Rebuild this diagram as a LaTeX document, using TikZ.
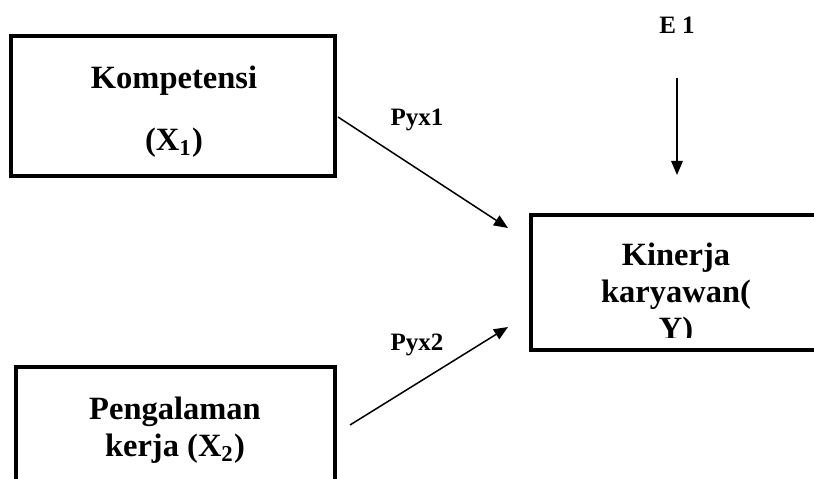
\documentclass[tikz,border=0pt]{standalone}
\usepackage{fontspec}
\setmainfont{Liberation Serif}
\usetikzlibrary{arrows.meta, positioning}
\tikzset{
  varbox/.style={rectangle, draw=black, line width=1.6pt, inner sep=0pt},
  vartext/.style={font=\bfseries\fontsize{13}{14.8}\selectfont, align=center, inner sep=0pt},
  pathlbl/.style={font=\bfseries\fontsize{10}{12}\selectfont, inner sep=0pt},
  arrow/.style={-{Triangle[length=5.6pt, width=4.6pt]}, line width=0.6pt},
}
\begin{document}
\begin{tikzpicture}[x=0.4pt, y=-0.4pt]
  \useasboundingbox (0,0) rectangle (814,479);
  \clip (0,0) rectangle (814,479);
  % boxes
  \node[varbox, minimum width=129.6pt, minimum height=56pt] (kom) at (173,106) {};
  \node[varbox, minimum width=127.6pt, minimum height=61.2pt] (peng) at (175.5,443.5) {};
  \node[varbox, minimum width=147.6pt, minimum height=54pt] (kin) at (715.5,282.5) {};
  % texts in the boxes
  \node[vartext] (komtxt) at (174,81) {Kompetensi};
  \node[vartext] (komx) at (174,143) {(X\textsubscript{1})};
  \node[vartext] (pengtxt) at (175,430) {Pengalaman\\kerja (X\textsubscript{2})};
  \begin{scope}
    \clip (535,219) rectangle (819,337);
    \node[vartext] (kintxt) at (676,295) {Kinerja\\karyawan(\\Y)};
  \end{scope}
  % path labels
  \node[pathlbl] (e1) at (677,25) {E 1};
  \node[pathlbl] (p1) at (417,120) {Pyx1};
  \node[pathlbl] (p2) at (417,345) {Pyx2};
  % arrows
  \coordinate (e1top) at (677,78);
  \coordinate (e1end) at (677,175);
  \coordinate (p1start) at (338,117);
  \coordinate (p1end) at (508,228);
  \coordinate (p2start) at (350,425);
  \coordinate (p2end) at (508,327);
  \draw[arrow] (e1top) -- (e1end);
  \draw[arrow] (p1start) -- (p1end);
  \draw[arrow] (p2start) -- (p2end);
\end{tikzpicture}
\end{document}
